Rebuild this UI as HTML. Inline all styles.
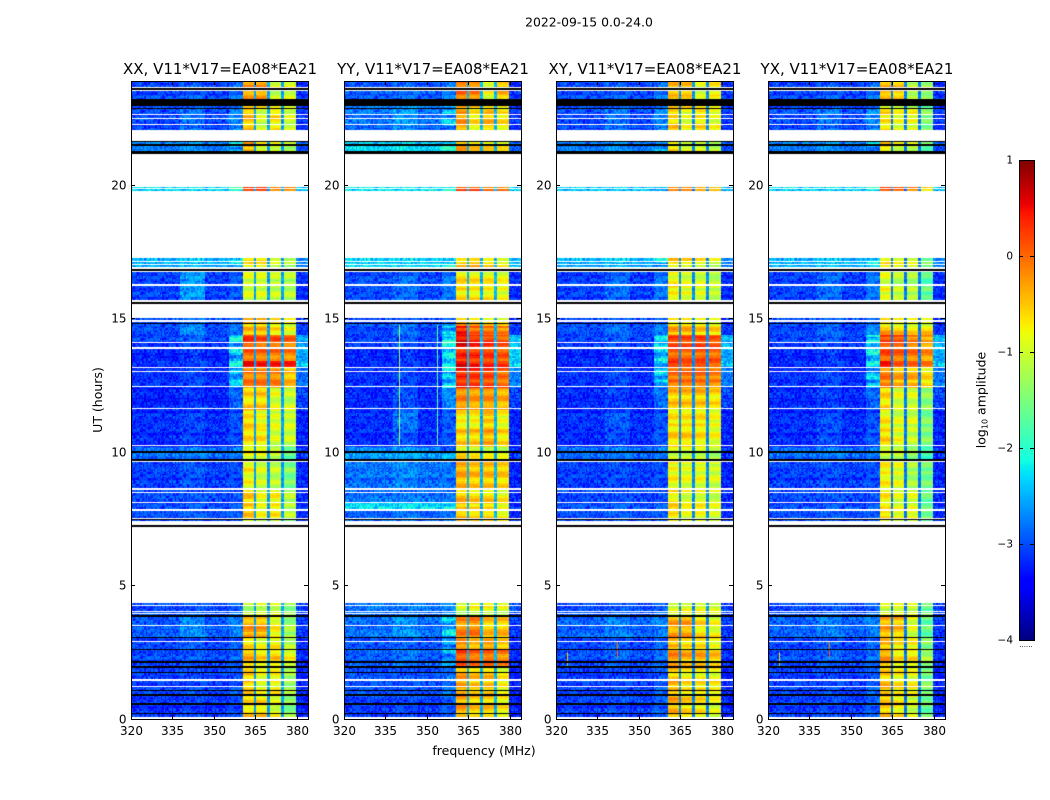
<!DOCTYPE html>
<html>
<head>
<meta charset="utf-8">
<style>
html,body{margin:0;padding:0;background:#fff;}
body{width:1050px;height:800px;position:relative;overflow:hidden;font-family:"DejaVu Sans","Liberation Sans",sans-serif;color:#000;}
canvas{position:absolute;display:block;}
svg{position:absolute;left:0;top:0;}
text{font-family:"DejaVu Sans","Liberation Sans",sans-serif;fill:#000;}
</style>
</head>
<body>
<canvas id="cv0"></canvas>
<canvas id="cv1"></canvas>
<canvas id="cv2"></canvas>
<canvas id="cv3"></canvas>
<canvas id="cbar"></canvas>
<svg id="overlay" width="1050" height="800">
  <text x="589" y="26.5" font-size="12.4" text-anchor="middle">2022-09-15 0.0-24.0</text>
  <text x="484" y="755" font-size="12.5" text-anchor="middle">frequency (MHz)</text>
  <text transform="translate(102,400) rotate(-90)" font-size="12.5" text-anchor="middle">UT (hours)</text>
  <text transform="translate(985.5,400) rotate(-90)" font-size="12.5" text-anchor="middle">log<tspan font-size="8" dy="2">10</tspan><tspan dy="-2"> amplitude</tspan></text>
</svg>
<script>
// Panel titles and axis ticks
const panelTitles = ["XX, V11*V17=EA08*EA21","YY, V11*V17=EA08*EA21","XY, V11*V17=EA08*EA21","YX, V11*V17=EA08*EA21"];
const freqTicks = [320,335,350,365,380];
const utTicks = [0,5,10,15,20];
const colorTicks = [1,0,-1,-2,-3,-4];

// Time bands with observed data (UT hours)
const bandLow  = [0,0.86,1.95,2.62,3.07,3.86,7.2,7.8,8.1,8.66,9.67,10.23,10.9,11.62,12.44,13.16,13.45,13.9,14.4,14.77,15.57,16.79,19.8,21.18,22.08,22.9,23.25];
const bandHigh = [0.86,1.95,2.62,3.07,3.86,4.35,7.8,8.1,8.66,9.67,10.23,10.9,11.62,12.44,13.16,13.45,13.9,14.4,14.77,15.03,16.79,17.28,19.94,21.66,22.9,23.25,23.92];

// Column edges (MHz); each column reads the band-row entry given by freqColumn
const freqEdges = [320,338,347,355.5,360.4,365,370,375,380,384];
const freqColumn = [0,1,0,2,3,4,5,6,7];
// Blue slits between sub-bands (MHz)
const slitFreqs = [365,370,375];
const slitLevel = [-2.6,-2.5,-2.7,-2.8];

// log10 amplitudes: left, hump, wing, sub1, sub2, sub3, sub4, right
const xxBands = [
[-3.15,-3.1,-3.05,-0.6,-0.6,-0.9,-1.4,-3.25],
[-3.1,-3.05,-3.0,-0.6,-0.9,-0.8,-1.3,-3.25],
[-3.05,-3.0,-2.95,-0.4,-0.6,-0.55,-0.8,-3.2],
[-3.1,-3.0,-3.0,-0.7,-0.9,-0.8,-1.2,-3.2],
[-2.95,-2.7,-2.75,-0.35,-0.4,-0.8,-1.3,-3.1],
[-3.05,-3.0,-2.95,-1.2,-1.0,-1.0,-1.4,-3.1],
[-3.05,-3.0,-3.0,-0.6,-0.9,-0.8,-1.2,-3.2],
[-3.05,-3.0,-3.0,-0.6,-0.9,-0.8,-1.2,-3.2],
[-3.05,-3.0,-3.0,-0.6,-0.9,-0.8,-1.2,-3.2],
[-3.1,-3.0,-3.05,-0.8,-1.0,-1.1,-1.5,-3.2],
[-2.85,-2.75,-2.75,-0.9,-0.9,-1.1,-1.7,-3.1],
[-3.2,-3.1,-3.05,-0.6,-0.65,-0.95,-1.0,-3.25],
[-3.2,-3.1,-3.05,-0.65,-0.85,-0.95,-1.05,-3.25],
[-3.25,-3.15,-2.9,-0.6,-0.55,-0.9,-1.05,-3.05],
[-3.2,-3.1,-2.6,-0.15,-0.15,-0.2,-0.5,-2.85],
[-3.2,-3.1,-2.3,0.35,0.3,0.3,0.25,-2.4],
[-3.2,-3.1,-2.4,0.05,0,-0.05,-0.1,-2.5],
[-3.1,-3.0,-2.4,0.2,0.05,0.05,-0.05,-2.6],
[-3.05,-2.75,-2.9,-0.45,-0.45,-0.7,-0.9,-3.1],
[-3.05,-2.85,-2.9,-0.5,-0.5,-0.7,-0.9,-3.1],
[-3.1,-2.65,-3.0,-1.0,-1.0,-1.1,-1.2,-3.2],
[-2.5,-2.4,-2.4,-0.7,-0.7,-1.0,-1.2,-2.7],
[-2.4,-2.4,-2.3,0.05,0.05,-0.4,-0.4,-2.5],
[-2.8,-2.7,-2.6,-0.4,-0.9,-1.0,-1.2,-3.0],
[-3.05,-2.85,-2.75,-0.5,-1.0,-0.7,-1.0,-3.15],
[-3.05,-3.0,-2.95,-0.7,-0.7,-0.9,-1.1,-3.15],
[-3.05,-2.95,-2.85,-0.25,-0.25,-1.0,-0.9,-3.15]
];
const yyBands = [
[-3.1,-3.05,-2.95,-0.3,-0.5,-0.5,-0.7,-3.25],
[-3.0,-3.0,-2.85,-0.35,-0.5,-0.5,-0.8,-3.25],
[-2.95,-2.85,-2.65,0.15,0.0,0.0,-0.15,-3.2],
[-3.0,-2.95,-2.65,-0.2,-0.4,-0.3,-0.5,-3.2],
[-2.85,-2.65,-2.45,-0.2,-0.15,-0.5,-0.5,-3.1],
[-2.85,-2.85,-2.75,-1.1,-0.9,-0.9,-1.0,-3.0],
[-2.95,-2.85,-2.85,-0.5,-0.6,-0.6,-0.8,-3.2],
[-2.3,-2.3,-2.3,-0.5,-0.6,-0.6,-0.8,-3.2],
[-2.85,-2.8,-2.8,-0.5,-0.6,-0.6,-0.8,-3.2],
[-2.85,-2.75,-2.85,-0.4,-0.5,-0.5,-0.6,-3.25],
[-2.65,-2.55,-2.65,-0.7,-0.8,-0.9,-1.0,-3.1],
[-3.2,-3.0,-3.0,-0.55,-0.55,-0.4,-0.65,-3.25],
[-3.2,-2.85,-3.0,-0.75,-0.75,-0.55,-0.85,-3.25],
[-3.2,-3.0,-2.7,-0.15,-0.25,-0.2,-0.35,-3.05],
[-3.2,-3.1,-2.5,0.3,0.25,0.15,-0.05,-2.75],
[-3.2,-3.1,-2.15,0.6,0.45,0.4,0.3,-2.3],
[-3.2,-3.1,-2.25,0.35,0.3,0.25,0.1,-2.3],
[-3.1,-3.0,-2.25,0.5,0.3,0.2,0.05,-2.45],
[-3.1,-2.9,-2.6,0.35,0.0,-0.1,-0.2,-3.15],
[-3.05,-2.95,-2.85,-0.4,-0.5,-0.7,-0.8,-3.15],
[-3.05,-2.9,-2.85,-0.7,-0.75,-0.8,-0.9,-3.2],
[-2.3,-2.3,-2.2,-0.5,-0.4,-0.6,-0.8,-2.4],
[-2.3,-2.3,-2.2,0.15,0.15,-0.1,-0.1,-2.4],
[-2.4,-2.35,-2.3,-0.4,-0.6,-0.7,-0.8,-2.95],
[-2.85,-2.65,-2.6,-0.3,-0.7,-0.5,-0.7,-3.15],
[-2.75,-2.65,-2.6,-0.3,-0.4,-0.6,-0.7,-3.15],
[-2.95,-2.85,-2.75,0.0,-0.1,-0.8,-0.4,-3.15]
];
const xyBands = [
[-3.1,-3.05,-2.95,-0.4,-0.6,-0.7,-0.9,-3.25],
[-3.1,-3.05,-2.95,-0.5,-0.7,-0.7,-0.8,-3.25],
[-3.05,-2.95,-2.9,-0.25,-0.4,-0.4,-0.55,-3.2],
[-3.1,-3.0,-2.95,-0.5,-0.7,-0.7,-0.9,-3.2],
[-2.9,-2.75,-2.75,-0.3,-0.3,-0.6,-0.8,-3.1],
[-3.05,-3.0,-2.95,-1.0,-0.9,-0.9,-1.0,-3.1],
[-3.05,-3.0,-3.0,-0.7,-0.9,-0.85,-1.0,-3.2],
[-3.05,-3.0,-3.0,-0.7,-0.9,-0.85,-1.0,-3.2],
[-3.05,-3.0,-3.0,-0.7,-0.9,-0.85,-1.0,-3.2],
[-3.1,-3.05,-3.05,-0.8,-0.9,-0.9,-1.0,-3.25],
[-2.85,-2.75,-2.75,-0.95,-0.95,-1.0,-1.2,-3.1],
[-3.2,-3.05,-3.0,-0.6,-0.6,-0.7,-0.85,-3.25],
[-3.2,-3.0,-3.05,-0.75,-0.75,-0.75,-0.9,-3.25],
[-3.2,-3.1,-2.85,-0.5,-0.5,-0.5,-0.65,-3.05],
[-3.2,-3.1,-2.6,-0.1,-0.1,-0.1,-0.2,-2.8],
[-3.2,-3.1,-2.25,0.4,0.3,0.35,0.15,-2.4],
[-3.2,-3.1,-2.35,0.1,0.05,0.1,0.05,-2.5],
[-3.1,-3.0,-2.35,0.2,0.15,0.2,0.1,-2.5],
[-3.05,-2.9,-2.85,-0.4,-0.45,-0.6,-0.65,-3.15],
[-3.05,-2.95,-2.9,-0.6,-0.6,-0.7,-0.8,-3.15],
[-3.1,-2.9,-2.85,-0.75,-0.9,-0.95,-1.1,-3.2],
[-2.5,-2.4,-2.4,-0.6,-0.7,-0.8,-1.0,-2.7],
[-2.4,-2.4,-2.3,0.05,0.05,-0.15,-0.25,-2.5],
[-2.8,-2.7,-2.6,-0.6,-0.9,-0.9,-1.1,-3.0],
[-3.05,-2.85,-2.75,-0.6,-0.9,-0.7,-0.9,-3.15],
[-3.05,-3.0,-2.95,-0.7,-0.7,-0.85,-1.0,-3.15],
[-3.05,-2.95,-2.85,-0.5,-0.55,-1.0,-0.8,-3.15]
];
const yxBands = [
[-3.1,-3.05,-2.95,-0.5,-0.7,-1.0,-1.6,-3.25],
[-3.1,-3.05,-2.95,-0.5,-0.7,-0.8,-1.5,-3.25],
[-3.05,-2.95,-2.9,-0.35,-0.7,-0.7,-1.3,-3.2],
[-3.1,-3.0,-2.95,-0.5,-0.7,-0.8,-1.5,-3.2],
[-2.9,-2.75,-2.75,-0.35,-0.45,-0.9,-1.6,-3.1],
[-3.05,-3.0,-2.95,-1.0,-0.9,-1.0,-1.6,-3.1],
[-3.05,-3.0,-3.0,-0.7,-0.9,-0.9,-1.6,-3.2],
[-3.05,-3.0,-3.0,-0.7,-0.9,-0.9,-1.6,-3.2],
[-3.05,-3.0,-3.0,-0.7,-0.9,-0.9,-1.6,-3.2],
[-3.1,-3.05,-3.05,-0.8,-0.95,-1.3,-1.6,-3.25],
[-2.85,-2.75,-2.75,-1.0,-1.0,-1.3,-1.8,-3.1],
[-3.2,-3.05,-3.0,-0.65,-0.9,-1.1,-1.5,-3.25],
[-3.2,-3.05,-3.05,-0.75,-0.95,-1.0,-1.5,-3.25],
[-3.2,-3.1,-2.9,-0.65,-0.95,-1.0,-1.4,-3.05],
[-3.2,-3.1,-2.6,-0.15,-0.4,-0.45,-0.7,-2.8],
[-3.2,-3.1,-2.25,0.35,0.05,0.0,-0.15,-2.4],
[-3.2,-3.1,-2.35,0.1,0.0,-0.1,-0.25,-2.5],
[-3.1,-3.0,-2.35,0.15,0.1,-0.15,-0.35,-2.5],
[-3.1,-2.95,-2.75,-0.4,-0.55,-0.7,-0.6,-3.15],
[-3.05,-2.95,-2.9,-0.7,-0.8,-0.85,-0.95,-3.15],
[-3.1,-2.9,-2.85,-0.9,-1.1,-1.2,-1.7,-3.2],
[-2.5,-2.4,-2.4,-0.8,-0.9,-1.0,-1.6,-2.7],
[-2.4,-2.4,-2.3,0.05,-0.05,-0.3,-0.75,-2.5],
[-2.8,-2.7,-2.6,-0.55,-0.9,-1.0,-1.6,-3.0],
[-3.05,-2.85,-2.75,-0.7,-0.9,-0.9,-1.5,-3.15],
[-3.05,-3.0,-2.95,-0.8,-0.9,-1.1,-1.6,-3.15],
[-3.05,-2.95,-2.85,-0.4,-0.5,-1.1,-1.3,-3.15]
];
const panelBands = [xxBands,yyBands,xyBands,yxBands];

// Fully missing (white) and flagged (black) time spans in UT hours
const gapLow  = [0,1.2,1.44,2.87,3.5,3.92,4.0,4.22,4.35,7.27,7.5,7.8,8.1,8.47,8.58,9.63,10.23,11.62,12.44,13.0,13.16,13.89,14.09,14.88,15.03,15.65,16.23,16.79,16.86,17.05,17.17,17.28,19.88,19.94,21.66,22.26,22.49,22.64,23.54,23.65];
const gapHigh = [0.09,1.24,1.5,2.92,3.54,3.96,4.04,4.27,7.2,7.42,7.55,7.87,8.14,8.51,8.66,9.67,10.27,11.66,12.48,13.04,13.19,13.93,14.13,14.96,15.57,15.71,16.3,16.81,16.93,17.07,17.19,19.8,19.9,21.18,22.08,22.3,22.53,22.68,23.57,23.69];
const flagLow  = [0.2,0.54,0.86,1.05,1.72,1.93,2.1,2.6,3.06,3.83,7.2,7.46,9.69,9.97,14.8,15.57,16.81,21.18,21.5,21.62,22.86,22.97,23.58];
const flagHigh = [0.24,0.6,0.94,1.09,1.78,1.97,2.17,2.64,3.09,3.9,7.27,7.5,9.73,10.04,14.84,15.63,16.86,21.29,21.55,21.66,22.9,23.24,23.65];

// Narrow features: panel index, frequency, UT range, level
const spikePanel = [1,1,2,2,3,3];
const spikeFreq  = [340,353.5,342,324,342,324];
const spikeLow   = [10.27,10.27,2.3,2.0,2.3,2.0];
const spikeHigh  = [14.77,14.77,2.9,2.5,2.9,2.5];
const spikeLevel = [-1.3,-1.7,0,-0.5,0,-0.6];

// Fixed speckle texture and horizontal striping applied to cells
const speckle = [0.1,-0.3,0.25,-0.1,0.4,-0.35,0.05,-0.2,0.3,-0.05,0.2,-0.4,0.15,0.35,-0.25,0,0.45,-0.15,-0.3,0.1,0.25,-0.45,0.05,0.3,-0.1,-0.2,0.35,0.15,-0.35,0.2,-0.05];
const striping = [0.1,0.2,0.25,0.15,0.05,-0.1,-0.2,-0.25,-0.2,-0.05,0.1,0.2,0.1,-0.05,-0.15,-0.25,-0.15,0,0.15,0.25,0.2,0.05,-0.1,-0.2,-0.1,0.05,0.2,0.1,-0.1,-0.2];

// Geometry and axis functions
const panelLeft = [131,344,556,768];
const plotW = 177, plotTop = 81, plotBottom = 719;
const fMin = 320, fMax = 384, utMin = 0, utMax = 23.92;
function xAxis(p, f){ return panelLeft[p] + (f - fMin) / (fMax - fMin) * plotW; }
function yAxis(t){ return plotBottom - (t - utMin) / (utMax - utMin) * (plotBottom - plotTop); }

function lerp(xs, ys, v){
  for(let i=1;i<xs.length;i++){ if(v<=xs[i]){ return ys[i-1]+(ys[i]-ys[i-1])*(v-xs[i-1])/(xs[i]-xs[i-1]); } }
  return ys[ys.length-1];
}
function jet(t){
  t=Math.max(0,Math.min(1,t));
  const r=lerp([0,0.35,0.66,0.89,1],[0,0,1,1,0.5],t);
  const g=lerp([0,0.125,0.375,0.64,0.91,1],[0,0,1,1,0,0],t);
  const b=lerp([0,0.11,0.34,0.65,1],[0.5,1,1,0,0],t);
  return 'rgb('+Math.round(r*255)+','+Math.round(g*255)+','+Math.round(b*255)+')';
}
function colorScale(v){ return jet((v+4)/5); }

function levelAt(row, f){
  let k=0;
  while(k<freqEdges.length-2 && f>=freqEdges[k+1]) k++;
  return row[freqColumn[k]];
}

function drawPanel(p){
  const cv=document.getElementById('cv'+p);
  const ox=panelLeft[p], oy=plotTop;
  cv.width=plotW; cv.height=plotBottom-plotTop;
  cv.style.left=ox+'px'; cv.style.top=oy+'px';
  const c=cv.getContext('2d');
  c.fillStyle='#fff'; c.fillRect(0,0,cv.width,cv.height);
  const df=0.5, dt=0.055;
  const bands=panelBands[p];
  bands.forEach(function(row,b){
    const nT=Math.ceil((bandHigh[b]-bandLow[b])/dt);
    for(let j=0;j<nT;j++){
      const t=bandLow[b]+j*dt;
      const jj=Math.round(t/dt);
      const st=striping[(jj+p*3)%striping.length];
      for(let i=0;i*df<fMax-fMin;i++){
        const f=fMin+i*df;
        let v=levelAt(row,f);
        const inBlock=f>=freqEdges[4]&&f<freqEdges[8];
        const inWing=f>=freqEdges[3]&&f<freqEdges[4];
        const n=speckle[(i*i*3+jj*jj*7+i*jj)%speckle.length];
        if(inBlock){ v+=n*0.2+st; }
        else if(inWing){ v+=n*0.7+(row[2]>-2.7?st*1.5:st*0.2); }
        else { v+=n*0.75+st*0.2; }
        slitFreqs.forEach(function(sf){ if(Math.abs(f+0.25-sf)<=0.5){ v=slitLevel[p]+n*0.4; } });
        c.fillStyle=colorScale(v);
        const x0=Math.floor(xAxis(p,f))-ox, x1=Math.ceil(xAxis(p,f+df))-ox;
        const y0=Math.floor(yAxis(t+dt))-oy, y1=Math.ceil(yAxis(t))-oy;
        c.fillRect(x0,y0,x1-x0,y1-y0);
      }
    }
  });
  spikeFreq.forEach(function(f,s){
    if(spikePanel[s]!==p) return;
    c.fillStyle=colorScale(spikeLevel[s]);
    c.fillRect(Math.round(xAxis(p,f))-ox,yAxis(spikeHigh[s])-oy,1,yAxis(spikeLow[s])-yAxis(spikeHigh[s]));
  });
  gapLow.forEach(function(lo,s){
    c.fillStyle='#fff';
    const y0=Math.round(yAxis(gapHigh[s]))-oy, y1=Math.round(yAxis(lo))-oy;
    c.fillRect(0,y0,plotW,Math.max(1,y1-y0));
  });
  flagLow.forEach(function(lo,s){
    c.fillStyle='#000';
    const y0=Math.round(yAxis(flagHigh[s]))-oy, y1=Math.round(yAxis(lo))-oy;
    c.fillRect(0,y0,plotW,Math.max(1,y1-y0));
  });
}
[0,1,2,3].forEach(drawPanel);

// Overlay: frames, ticks, labels
const NS='http://www.w3.org/2000/svg';
const svg=document.getElementById('overlay');
function add(tag,attrs,text){
  const e=document.createElementNS(NS,tag);
  for(const k in attrs){ e.setAttribute(k,attrs[k]); }
  if(text!==undefined){ e.textContent=text; }
  svg.appendChild(e);
  return e;
}
function tickLine(x1,y1,x2,y2,name){
  const l=add('line',{x1:x1,y1:y1,x2:x2,y2:y2,stroke:'#000','stroke-width':1,'shape-rendering':'crispEdges'});
  
  
}
panelTitles.forEach(function(title,p){
  const L=panelLeft[p], R=L+plotW;
  const fr=add('rect',{x:L+0.5,y:plotTop+0.5,width:plotW,height:plotBottom-plotTop,fill:'none',stroke:'#000','stroke-width':1,'shape-rendering':'crispEdges'});
  
  
  const tt=add('text',{x:L+plotW/2+0.5,y:plotTop-7,'font-size':'15','text-anchor':'middle'},title);
  
  
  freqTicks.forEach(function(f){
    const x=Math.round(xAxis(p,f))+0.5;
    tickLine(x,plotBottom,x,plotBottom-4,'x-tick');
    tickLine(x,plotTop,x,plotTop+4,'x-tick-top');
    const lb=add('text',{x:x,y:plotBottom+16,'font-size':'12','text-anchor':'middle'},String(f));
    
    
  });
  utTicks.forEach(function(t){
    const y=Math.floor(yAxis(t))+0.5;
    tickLine(L,y,L+4,y,'y-tick');
    tickLine(R,y,R-4,y,'y-tick-right');
    const lb=add('text',{x:L-4.5,y:y+4,'font-size':'12','text-anchor':'end'},String(t));
    
    
  });
});

// Colorbar
const cbLeft=1019, cbW=15, cbTop=160, cbBottom=640;
const cbMin=-4, cbMax=1;
function cbY(v){ return cbBottom-(v-cbMin)/(cbMax-cbMin)*(cbBottom-cbTop); }
(function(){
  const cv=document.getElementById('cbar');
  cv.width=cbW; cv.height=cbBottom-cbTop;
  cv.style.left=cbLeft+'px'; cv.style.top=cbTop+'px';
  const c=cv.getContext('2d');
  for(let j=0;j<cv.height;j++){
    c.fillStyle=colorScale(cbMax-(j+0.5)/cv.height*(cbMax-cbMin));
    c.fillRect(0,j,cbW,1);
  }
})();
const cf=add('rect',{x:cbLeft+0.5,y:cbTop+0.5,width:cbW,height:cbBottom-cbTop,fill:'none',stroke:'#000','stroke-width':1,'shape-rendering':'crispEdges'});


colorTicks.forEach(function(v){
  const y=Math.round(cbY(v))+0.5;
  tickLine(cbLeft,y,cbLeft+4,y,'colorbar-tick');
  tickLine(cbLeft+cbW,y,cbLeft+cbW-4,y,'colorbar-tick-right');
  const lb=add('text',{x:cbLeft-6,y:y+3,'font-size':'10.5','text-anchor':'end'},v<0?'\u2212'+(-v):String(v));
  
  
});
const dots=add('text',{x:1026,y:647,'font-size':'7','text-anchor':'middle',fill:'#888'},'......');


</script>
</body>
</html>
